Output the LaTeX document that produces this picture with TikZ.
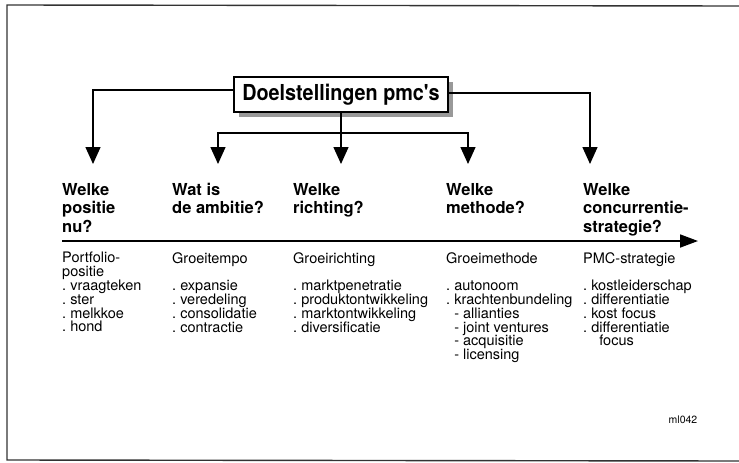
\documentclass[tikz,border=0pt]{standalone}
\usepackage{fontspec}
\setmainfont{TeX Gyre Heros}
\usetikzlibrary{arrows.meta,shadows}
\frenchspacing
\begin{document}
\begin{tikzpicture}[x=1pt,y=-1pt,
  frame/.style={draw=black!80,line width=1.4pt},
  link/.style={line width=1.4pt},
  arr/.style={link,-{Triangle[length=17pt,width=15pt]}},
  axis/.style={line width=1.8pt,-{Triangle[length=18pt,width=13pt]}},
  titlebox/.style={draw,line width=2.2pt,fill=white,minimum width=214pt,minimum height=35pt,inner sep=0pt,
    drop shadow={shadow xshift=4.5pt,shadow yshift=-4.5pt,fill=black!40,opacity=1}},
  question/.style={anchor=north west,inner sep=0pt,align=left,font=\fontsize{16.5}{18.5}\selectfont\bfseries},
  items/.style={anchor=north west,inner sep=0pt,align=left,font=\fontsize{14.5}{13.8}\selectfont},
  code/.style={inner sep=0pt,font=\fontsize{10.5}{12}\selectfont}]
\useasboundingbox (0,0) rectangle (739,463);

% open frame: left, top and bottom rules
\coordinate (ftr) at (739,6);
\coordinate (ftl) at (7,5);
\coordinate (fbl) at (7,460);
\coordinate (fbr) at (739,461);
\draw[frame] (ftr) -- (ftl) -- (fbl) -- (fbr);

% central box
\node[titlebox] (main) at (341,94.5)
  {\scalebox{0.9}[1]{\fontsize{22}{24}\selectfont\bfseries Doelstellingen pmc\textquotesingle s}};

% arrow targets above the five columns
\coordinate (a1) at (93,164);
\coordinate (a2) at (218,164);
\coordinate (a3) at (341,164);
\coordinate (a4) at (468,164);
\coordinate (a5) at (590,164);
\coordinate (jc) at (341,133);

\draw[arr] ([yshift=4.5pt]main.west) -| (a1);
\draw[arr] ([yshift=1.5pt]main.east) -| (a5);
\draw[link] (main.south) -- (jc);
\draw[arr] (jc) -| (a2);
\draw[arr] (jc) -| (a4);
\draw[arr] (jc) -- (a3);

% questions
\node[question] (q1) at (62,183) {Welke\\positie\\nu?};
\node[question] (q2) at (172,183) {Wat is\\de ambitie?};
\node[question] (q3) at (293,183) {Welke\\richting?};
\node[question] (q4) at (446,183) {Welke\\methode?};
\node[question] (q5) at (583,183) {Welke\\concurrentie-\\strategie?};

% axis
\coordinate (ax0) at (62,241);
\coordinate (ax1) at (698,241);
\draw[axis] (ax0) -- (ax1);

% answers
\node[items] (b1) at (62,252)
  {Portfolio-\\positie\\. vraagteken\\. ster\\. melkkoe\\. hond};
\node[items] (b2) at (172,252)
  {Groeitempo\\\mbox{}\\. expansie\\. veredeling\\. consolidatie\\. contractie};
\node[items] (b3) at (293,252)
  {Groeirichting\\\mbox{}\\. marktpenetratie\\. produktontwikkeling\\. marktontwikkeling\\. diversificatie};
\node[items] (b4) at (446,252)
  {Groeimethode\\\mbox{}\\. autonoom\\. krachtenbundeling\\\phantom{. }- allianties\\\phantom{. }- joint ventures\\\phantom{. }- acquisitie\\\phantom{. }- licensing};
\node[items] (b5) at (583,252)
  {PMC-strategie\\\mbox{}\\. kostleiderschap\\. differentiatie\\. kost focus\\. differentiatie\\\phantom{. . }focus};

\node[code] (ref) at (683,420) {ml042};
\end{tikzpicture}
\end{document}
